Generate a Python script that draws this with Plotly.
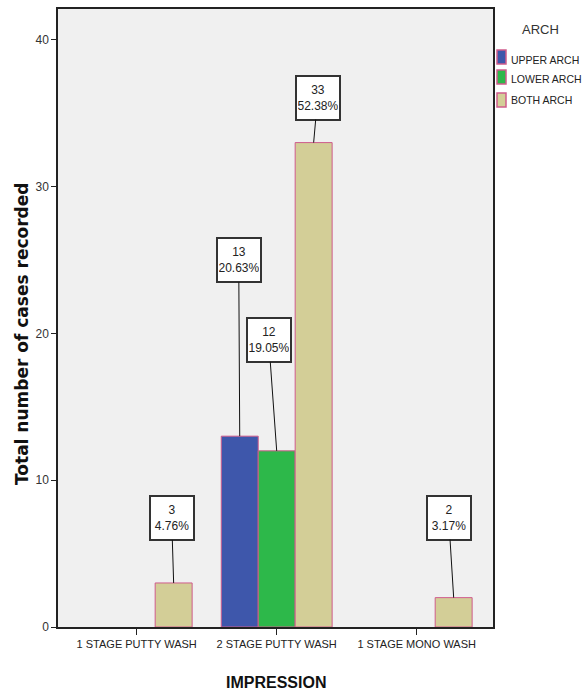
import plotly.graph_objects as go

# ---- data ----
categories = ["1 STAGE PUTTY WASH", "2 STAGE PUTTY WASH", "1 STAGE MONO WASH"]
series_names = ["UPPER ARCH", "LOWER ARCH", "BOTH ARCH"]
upper_arch = [None, 13, None]
lower_arch = [None, 12, None]
both_arch = [3, 33, 2]
y_ticks = [0, 10, 20, 30, 40]

series_values = [upper_arch, lower_arch, both_arch]
colors = ["#3E57AB", "#2DB84A", "#D3CE97"]
edge = "#CF5C8C"

total = sum(v for s in series_values for v in s if v is not None)

# ---- layout constants ----
W, H = 584, 696
ML, MR, MT, MB = 58, 91, 9, 69
BARGAP = 0.208
ngroup = len(series_names)
bar_w = (1 - BARGAP) / ngroup

def px_x(px):
    return (px - ML) / (W - ML - MR)

def px_y(py):
    return 1 - (py - MT) / (H - MT - MB)

fig = go.Figure()
for name, vals, col in zip(series_names, series_values, colors):
    fig.add_trace(go.Bar(
        x=list(range(len(categories))), y=vals, name=name,
        marker=dict(color=col, line=dict(color=edge, width=1)),
        showlegend=False, hoverinfo="skip"))

# value labels (pixel offsets of label boxes from bar tops)
label_offsets = {
    (2, 0): (-2, -65),
    (0, 1): (-1, -176),
    (1, 1): (-8, -111),
    (2, 1): (4, -45),
    (2, 2): (-5, -80),
}
font_main = "Liberation Sans, Arial, sans-serif"
annotations = []
for si, vals in enumerate(series_values):
    for ci, v in enumerate(vals):
        if v is None:
            continue
        ax, ay = label_offsets[(si, ci)]
        annotations.append(dict(
            x=ci + (si - (ngroup - 1) / 2) * bar_w, y=v, xref="x", yref="y",
            text=f"{v}<br>{v / total * 100:.2f}%",
            showarrow=True, arrowhead=0, arrowwidth=1, arrowcolor="#111",
            ax=ax, ay=ay, standoff=0,
            font=dict(family=font_main, size=12, color="#222"),
            bgcolor="white", bordercolor="#333", borderwidth=2,
            borderpad=1, width=40, height=40, align="center"))

# axis titles
annotations.append(dict(
    x=px_x(22), y=px_y(334), xref="paper", yref="paper",
    xanchor="center", yanchor="middle",
    text="<b>Total number of cases recorded</b>", textangle=-90,
    showarrow=False, font=dict(family="DejaVu Sans, Verdana, sans-serif", size=17, color="#111")))
annotations.append(dict(
    x=px_x(276), y=px_y(682), xref="paper", yref="paper",
    xanchor="center", yanchor="middle",
    text="<b>IMPRESSION</b>", showarrow=False,
    font=dict(family=font_main, size=16, color="#111")))

# legend (manual)
annotations.append(dict(
    x=px_x(540), y=px_y(30), xref="paper", yref="paper", text="ARCH",
    xanchor="center", yanchor="middle",
    showarrow=False, font=dict(family=font_main, size=13, color="#333")))
shapes = []
leg_y = [57, 77, 100]
leg_text_y = [60, 79, 100]
for name, col, yy, ty in zip(series_names, colors, leg_y, leg_text_y):
    shapes.append(dict(type="rect", xref="paper", yref="paper",
                       x0=px_x(497), x1=px_x(506), y0=px_y(yy - 7), y1=px_y(yy + 7),
                       fillcolor=col, line=dict(color=edge, width=1.5)))
    annotations.append(dict(
        x=px_x(509), y=px_y(ty), xref="paper", yref="paper", text=name,
        xanchor="left", yanchor="middle", showarrow=False,
        font=dict(family=font_main, size=10.5, color="#222")))

fig.update_layout(
    width=W, height=H,
    margin=dict(l=ML, r=MR, t=MT, b=MB),
    paper_bgcolor="white", plot_bgcolor="#F0F0F0",
    barmode="group", bargap=BARGAP, bargroupgap=0,
    annotations=annotations, shapes=shapes,
    showlegend=False,
    xaxis=dict(
        tickmode="array", tickvals=list(range(len(categories))), ticktext=categories,
        range=[-0.562, 2.545], showgrid=False, zeroline=False, automargin=False,
        showline=True, linecolor="#222", linewidth=1.5, mirror=True, tickangle=0,
        ticks="outside", ticklen=6, tickcolor="#222",
        tickfont=dict(family=font_main, size=11, color="#222")),
    yaxis=dict(
        tickmode="array", tickvals=y_ticks, range=[0, 42.1], automargin=False,
        showgrid=False, zeroline=False,
        showline=True, linecolor="#222", linewidth=1.5, mirror=True,
        ticks="outside", ticklen=5, tickcolor="#222",
        tickfont=dict(family=font_main, size=12, color="#333")),
)

fig.write_html(
    "out.html",
    config={"displayModeBar": False},
    post_script="document.body.style.margin='0';document.body.style.overflow='hidden';",
)
